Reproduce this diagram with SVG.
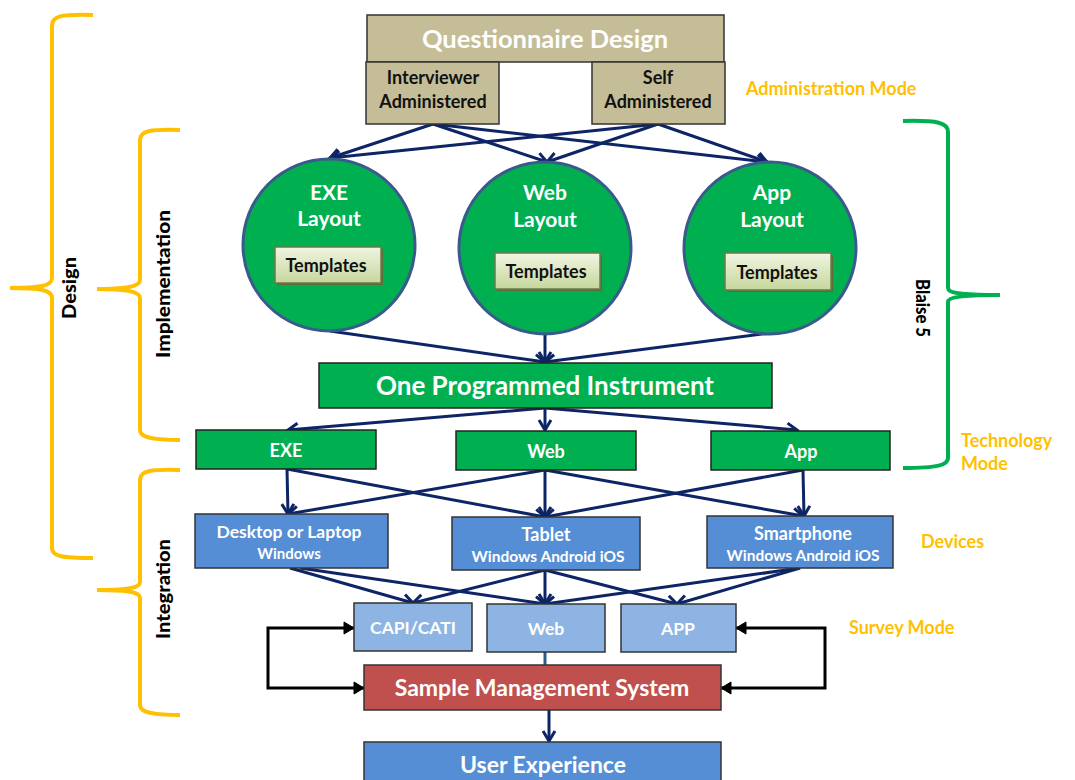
<svg xmlns="http://www.w3.org/2000/svg" width="1075" height="780" viewBox="0 0 1075 780">
<defs>
<style>
text{font-family:Lato,"Open Sans","Liberation Sans",sans-serif;font-weight:bold;text-anchor:middle}
.w{fill:#fff}
.k{fill:#111}
.o{fill:#FFC000;text-anchor:start;font-size:18px}
.tan{fill:#C4BD97;stroke:#333;stroke-width:1.5}
.grn{fill:#00B050;stroke:#222;stroke-width:1.5}
.circ{fill:#00B050;stroke:#3A5A8C;stroke-width:3}
.dev{fill:#558ED5;stroke:#333;stroke-width:1.5}
.mode{fill:#8DB4E2;stroke:#333;stroke-width:1.5}
.sms{fill:#C0504D;stroke:#333;stroke-width:1.5}
.tpl{fill:url(#tg);stroke:#6B7B4A;stroke-width:1.5}
.tsh{fill:#5E6B3A}
.c{stroke:#0D2566;stroke-width:3;fill:none;marker-end:url(#ah)}
.b{stroke:#000;stroke-width:3;fill:none;marker-start:url(#bh);marker-end:url(#bh)}
.br{fill:none;stroke:#FFC000;stroke-width:4}
.bg{fill:none;stroke:#00B050;stroke-width:4}
.lab{fill:#000;font-weight:900;font-size:18px}
</style>
<linearGradient id="tg" x1="0" y1="0" x2="0" y2="1">
<stop offset="0" stop-color="#F0F5E2"/>
<stop offset="1" stop-color="#C6D79C"/>
</linearGradient>
<marker id="ah" markerUnits="userSpaceOnUse" markerWidth="16" markerHeight="16" refX="13" refY="8" orient="auto">
<path d="M3,2 L13,8 L3,14" fill="none" stroke="#0D2566" stroke-width="3"/>
</marker>
<marker id="bh" markerUnits="userSpaceOnUse" markerWidth="16" markerHeight="16" refX="13" refY="8" orient="auto-start-reverse">
<path d="M3,2 L13,8 L3,14 Z" fill="#000" stroke="#000" stroke-width="1"/>
</marker>
</defs>
<rect width="1075" height="780" fill="#fff"/>

<g id="braces">
<path class="br" d="M93,15 C60,14 52,16 52,26 L52,278 C52,286 40,288 10,288 C40,288 52,290 52,298 L52,548 C52,556 60,558 93,558"/>
<path class="br" d="M180,130 C150,129 140,131 140,140 L140,280 C140,286 128,289 97,289 C128,289 140,292 140,298 L140,430 C140,437 150,440 180,440"/>
<path class="br" d="M180,470 C150,469 140,471 140,480 L140,582 C140,588 128,590 97,590 C128,590 140,592 140,598 L140,705 C140,712 150,715 180,715"/>
<path class="bg" d="M903,121 C938,120 948,123 948,132 L948,288 C948,293 960,295 1000,295 C960,295 948,297 948,302 L948,458 C948,465 938,468 903,468"/>
</g>

<g id="labels">
<text class="lab" transform="translate(76,288) rotate(-90)" textLength="62" lengthAdjust="spacingAndGlyphs">Design</text>
<text class="lab" transform="translate(170,284) rotate(-90)" textLength="148" lengthAdjust="spacingAndGlyphs">Implementation</text>
<text class="lab" transform="translate(170,589) rotate(-90)" textLength="100" lengthAdjust="spacingAndGlyphs">Integration</text>
<text class="lab" transform="translate(916,308) rotate(90)" textLength="58" lengthAdjust="spacingAndGlyphs">Blaise 5</text>
<text class="o" x="746" y="95">Administration Mode</text>
<text class="o" x="961" y="447">Technology</text>
<text class="o" x="961" y="470">Mode</text>
<text class="o" x="921" y="548">Devices</text>
<text class="o" x="849" y="634">Survey Mode</text>
</g>

<g id="connectors">
<line class="c" x1="433" y1="124" x2="330" y2="158"/>
<line class="c" x1="433" y1="124" x2="547" y2="162"/>
<line class="c" x1="433" y1="124" x2="767" y2="162"/>
<line class="c" x1="658" y1="124" x2="330" y2="158"/>
<line class="c" x1="658" y1="124" x2="547" y2="162"/>
<line class="c" x1="658" y1="124" x2="767" y2="162"/>

<line class="c" x1="330" y1="331" x2="545" y2="362"/>
<line class="c" x1="545" y1="335" x2="545" y2="362"/>
<line class="c" x1="770" y1="333" x2="545" y2="362"/>

<line class="c" x1="545" y1="408" x2="288" y2="430"/>
<line class="c" x1="545" y1="408" x2="545" y2="430"/>
<line class="c" x1="545" y1="408" x2="797" y2="430"/>

<line class="c" x1="287" y1="469" x2="288" y2="514"/>
<line class="c" x1="287" y1="469" x2="545" y2="517"/>
<line class="c" x1="545" y1="470" x2="288" y2="514"/>
<line class="c" x1="545" y1="470" x2="545" y2="517"/>
<line class="c" x1="545" y1="470" x2="803" y2="516"/>
<line class="c" x1="803" y1="470" x2="545" y2="517"/>
<line class="c" x1="803" y1="470" x2="804" y2="516"/>

<line class="c" x1="290" y1="568" x2="413" y2="603"/>
<line class="c" x1="300" y1="568" x2="545" y2="604"/>
<line class="c" x1="545" y1="570" x2="413" y2="603"/>
<line class="c" x1="545" y1="570" x2="545" y2="604"/>
<line class="c" x1="545" y1="570" x2="677" y2="604"/>
<line class="c" x1="800" y1="568" x2="545" y2="604"/>
<line class="c" x1="800" y1="568" x2="677" y2="604"/>

<line x1="545" y1="652" x2="545" y2="665" stroke="#2E5C8A" stroke-width="3"/>
<line class="c" x1="549" y1="710" x2="549" y2="741"/>

<path class="b" d="M354,628 L268,628 L268,688 L364,688"/>
<path class="b" d="M736,628 L825,628 L825,688 L721,688"/>
</g>

<g id="questionnaire">
<rect class="tan" x="367" y="15" width="357" height="47"/>
<text class="w" x="545" y="48" font-size="25.5">Questionnaire Design</text>
</g>
<g id="interviewer">
<rect class="tan" x="366" y="62" width="133" height="62"/>
<text class="k" x="433" y="84" font-size="18">Interviewer</text>
<text class="k" x="433" y="108" font-size="18">Administered</text>
</g>
<g id="self">
<rect class="tan" x="592" y="62" width="133" height="62"/>
<text class="k" x="658" y="84" font-size="18">Self</text>
<text class="k" x="658" y="108" font-size="18">Administered</text>
</g>

<g id="exe-layout">
<circle class="circ" cx="329" cy="245" r="86"/>
<text class="w" x="329" y="200" font-size="21">EXE</text>
<text class="w" x="329" y="226" font-size="21">Layout</text>
<rect class="tsh" x="277" y="249" width="106" height="36"/>
<rect class="tpl" x="275" y="247" width="106" height="36"/>
<text class="k" x="326" y="272" font-size="18">Templates</text>
</g>
<g id="web-layout">
<circle class="circ" cx="545" cy="248" r="86"/>
<text class="w" x="545" y="200" font-size="21">Web</text>
<text class="w" x="545" y="227" font-size="21">Layout</text>
<rect class="tsh" x="497" y="255" width="105" height="36"/>
<rect class="tpl" x="495" y="253" width="105" height="36"/>
<text class="k" x="546" y="278" font-size="18">Templates</text>
</g>
<g id="app-layout">
<circle class="circ" cx="770" cy="248" r="86"/>
<text class="w" x="772" y="200" font-size="21">App</text>
<text class="w" x="772" y="227" font-size="21">Layout</text>
<rect class="tsh" x="727" y="255" width="106" height="37"/>
<rect class="tpl" x="725" y="253" width="106" height="37"/>
<text class="k" x="777" y="279" font-size="18">Templates</text>
</g>

<g id="opi">
<rect class="grn" x="319" y="363" width="453" height="45"/>
<text class="w" x="545" y="395" font-size="26">One Programmed Instrument</text>
</g>
<g id="tech-exe">
<rect class="grn" x="196" y="430" width="180" height="39"/>
<text class="w" x="286" y="457" font-size="18">EXE</text>
</g>
<g id="tech-web">
<rect class="grn" x="456" y="431" width="180" height="39"/>
<text class="w" x="546" y="458" font-size="18">Web</text>
</g>
<g id="tech-app">
<rect class="grn" x="711" y="431" width="179" height="39"/>
<text class="w" x="801" y="458" font-size="18">App</text>
</g>

<g id="desktop">
<rect class="dev" x="195" y="514" width="193" height="54"/>
<text class="w" x="289" y="538" font-size="17.5">Desktop or Laptop</text>
<text class="w" x="289" y="559" font-size="15">Windows</text>
</g>
<g id="tablet">
<rect class="dev" x="452" y="517" width="188" height="53"/>
<text class="w" x="546" y="541" font-size="18">Tablet</text>
<text class="w" x="548" y="562" font-size="15.5">Windows Android iOS</text>
</g>
<g id="smartphone">
<rect class="dev" x="707" y="516" width="186" height="52"/>
<text class="w" x="803" y="540" font-size="18">Smartphone</text>
<text class="w" x="803" y="561" font-size="15.5">Windows Android iOS</text>
</g>

<g id="capi">
<rect class="mode" x="354" y="603" width="118" height="48"/>
<text class="w" x="413" y="634" font-size="17.5">CAPI/CATI</text>
</g>
<g id="web-mode">
<rect class="mode" x="487" y="604" width="118" height="48"/>
<text class="w" x="546" y="635" font-size="17.5">Web</text>
</g>
<g id="app-mode">
<rect class="mode" x="621" y="604" width="115" height="48"/>
<text class="w" x="678" y="635" font-size="17.5">APP</text>
</g>

<g id="sms">
<rect class="sms" x="364" y="665" width="357" height="45"/>
<text class="w" x="542" y="696" font-size="23">Sample Management System</text>
</g>
<g id="ux">
<rect class="dev" x="364" y="742" width="357" height="45"/>
<text class="w" x="543" y="773" font-size="23">User Experience</text>
</g>
</svg>
